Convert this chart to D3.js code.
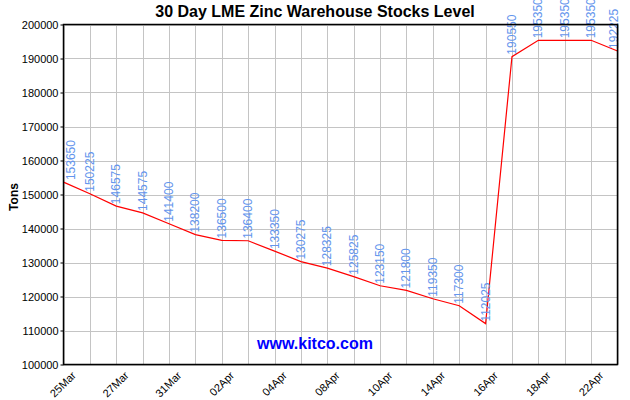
<!DOCTYPE html>
<html><head><meta charset="utf-8">
<script src="https://cdn.jsdelivr.net/npm/d3@7"></script>
<style>body{margin:0;background:#fff}svg{display:block}</style>
</head><body>
<script>
const dates = ["25Mar","26Mar","27Mar","28Mar","31Mar","01Apr","02Apr","03Apr","04Apr","07Apr","08Apr","09Apr","10Apr","11Apr","14Apr","15Apr","16Apr","17Apr","18Apr","21Apr","22Apr","23Apr"];
const stocks = [153650,150225,146575,144575,141400,138200,136500,136400,133350,130275,128325,125825,123150,121800,119350,117300,112025,190550,195350,195350,195350,192225];
const yTicks = [100000,110000,120000,130000,140000,150000,160000,170000,180000,190000,200000];

const W = 630, H = 400;
const m = {l: 63.5, r: 617.5, t: 24.5, b: 364.5};
const svg = d3.select("body").append("svg").attr("width", W).attr("height", H);
const x = d3.scalePoint().domain(d3.range(dates.length)).range([m.l, m.r]);
const y = d3.scaleLinear().domain([100000, 200000]).range([m.b, m.t]);
const font = "Liberation Sans, Arial, sans-serif";

// grid
const g = svg.append("g");
g.selectAll("line.v").data(d3.range(dates.length)).join("line")
  .attr("x1", d => Math.round(x(d)) + 0.5).attr("x2", d => Math.round(x(d)) + 0.5)
  .attr("y1", m.t).attr("y2", m.b).attr("stroke", "#c4c4c4").attr("stroke-width", 1);
g.selectAll("line.h").data(yTicks).join("line")
  .attr("y1", d => Math.round(y(d)) + 0.5).attr("y2", d => Math.round(y(d)) + 0.5)
  .attr("x1", m.l).attr("x2", m.r).attr("stroke", "#c4c4c4").attr("stroke-width", 1);

// line
svg.append("path").datum(stocks)
  .attr("d", d3.line().x((d, i) => x(i)).y(d => y(d)))
  .attr("fill", "none").attr("stroke", "#ff0000").attr("stroke-width", 1.2);

// value labels
svg.append("g").selectAll("text").data(stocks).join("text")
  .attr("transform", (d, i) => {
    let px = x(i);
    if (i === 0) px += 7;
    if (i === dates.length - 1) px -= 4;
    return `translate(${px + 4},${y(d) - 2}) rotate(-90)`;
  })
  .attr("font-family", font).attr("font-size", 12).attr("fill", "#6495ed")
  .text(d => d);

// frame
svg.append("rect").attr("x", m.l).attr("y", m.t).attr("width", m.r - m.l).attr("height", m.b - m.t)
  .attr("fill", "none").attr("stroke", "#000").attr("stroke-width", 1.5);

// y axis
const ya = svg.append("g").attr("transform", `translate(${m.l},0)`)
  .call(d3.axisLeft(y).tickValues(yTicks).tickSize(3).tickPadding(2).tickFormat(d3.format("d")));
ya.select(".domain").remove();
ya.selectAll("text").attr("font-family", font).attr("font-size", 11).attr("fill", "#000");
ya.selectAll("line").attr("stroke", "#000");

// x axis labels
const xa = svg.append("g").attr("transform", `translate(0,${m.b})`)
  .call(d3.axisBottom(x).tickValues(d3.range(0, dates.length, 2)).tickSize(0).tickFormat(i => dates[i]));
xa.select(".domain").remove();
xa.selectAll("text").attr("font-family", font).attr("font-size", 11).attr("fill", "#000")
  .attr("text-anchor", "end").attr("transform", "translate(5,4) rotate(-45)").attr("dy", "0.7em");

// title
svg.append("text").attr("x", 315).attr("y", 17).attr("text-anchor", "middle")
  .attr("font-family", font).attr("font-weight", "bold").attr("font-size", 16).text("30 Day LME Zinc Warehouse Stocks Level");

// y label
svg.append("text").attr("transform", "translate(18,197) rotate(-90)").attr("text-anchor", "middle")
  .attr("font-family", font).attr("font-weight", "bold").attr("font-size", 12).text("Tons");

// watermark
svg.append("text").attr("x", 315).attr("y", 349).attr("text-anchor", "middle")
  .attr("font-family", font).attr("font-weight", "bold").attr("font-size", 16).attr("fill", "#0000ff").text("www.kitco.com");
</script>
</body></html>
